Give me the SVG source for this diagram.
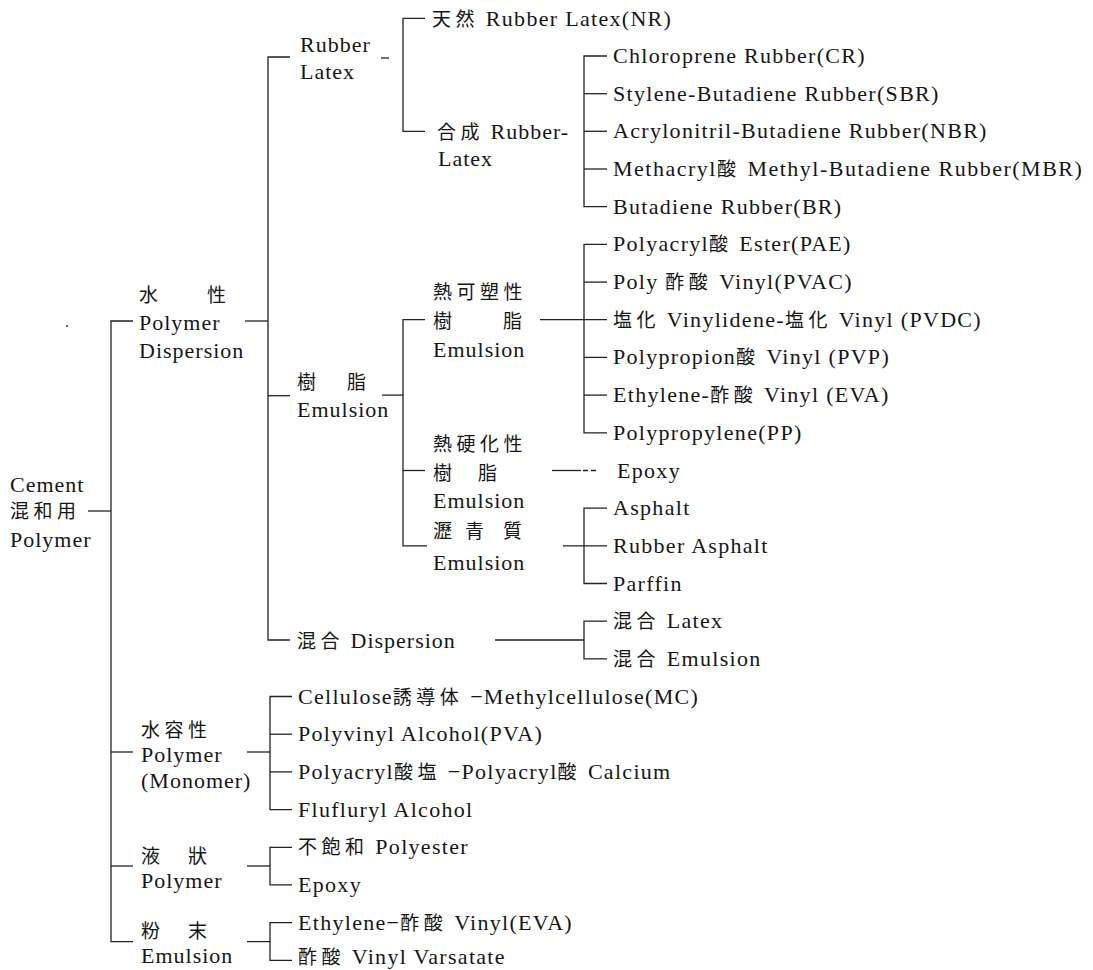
<svg xmlns="http://www.w3.org/2000/svg" width="1093" height="970" viewBox="0 0 1093 970">
<style>
text { font-family: "Liberation Serif", "Noto Sans CJK JP", serif; font-size: 22px; fill: #161616; letter-spacing: 1px; }
text.i { letter-spacing: 1.3px; }
.k { font-family: "Noto Sans CJK JP", "Liberation Serif", sans-serif; font-size: 19px; letter-spacing: 4.5px; }
#connectors line, #connectors polyline { stroke: #222; stroke-width: 1.3; fill: none; }
</style>
<rect width="1093" height="970" fill="#fff"/>
<g id="connectors">
  <line x1="88" y1="511" x2="111" y2="511"/>
  <polyline points="133,321 111,321 111,941.6 133,941.6"/>
  <line x1="111" y1="752" x2="133" y2="752"/>
  <line x1="111" y1="866" x2="133" y2="866"/>
  <line x1="245" y1="321" x2="268" y2="321"/>
  <polyline points="290,57 268,57 268,640 290,640"/>
  <line x1="268" y1="395.7" x2="290" y2="395.7"/>
  <line x1="381" y1="58" x2="389" y2="58"/>
  <polyline points="425,18.3 403,18.3 403,131.3 425,131.3"/>
  <polyline points="607,56 584,56 584,206.7 607,206.7"/>
  <line x1="584" y1="93.7" x2="607" y2="93.7"/>
  <line x1="584" y1="131.3" x2="607" y2="131.3"/>
  <line x1="584" y1="169" x2="607" y2="169"/>
  <line x1="382" y1="395.1" x2="403" y2="395.1"/>
  <polyline points="425,319.7 403,319.7 403,545.8 427,545.8"/>
  <line x1="403" y1="470.5" x2="425" y2="470.5"/>
  <line x1="540" y1="319.7" x2="607" y2="319.7"/>
  <polyline points="607,244.4 584,244.4 584,432.8 607,432.8"/>
  <line x1="584" y1="282.1" x2="607" y2="282.1"/>
  <line x1="584" y1="357.4" x2="607" y2="357.4"/>
  <line x1="584" y1="395.1" x2="607" y2="395.1"/>
  <line x1="552" y1="470.5" x2="581" y2="470.5"/>
  <line x1="583" y1="470.5" x2="597" y2="470.5" stroke-dasharray="5 3"/>
  <line x1="563" y1="545.8" x2="607" y2="545.8"/>
  <polyline points="607,508.1 584,508.1 584,583.5 607,583.5"/>
  <line x1="495" y1="640" x2="584" y2="640"/>
  <polyline points="607,621.2 584,621.2 584,658.9 607,658.9"/>
  <line x1="247" y1="752" x2="270" y2="752"/>
  <polyline points="292,696.5 270,696.5 270,809.6 292,809.6"/>
  <line x1="270" y1="734.2" x2="292" y2="734.2"/>
  <line x1="270" y1="771.9" x2="292" y2="771.9"/>
  <line x1="247" y1="866" x2="270" y2="866"/>
  <polyline points="292,847.3 270,847.3 270,884.9 292,884.9"/>
  <line x1="247" y1="941.6" x2="270" y2="941.6"/>
  <polyline points="292,922.6 270,922.6 270,960.3 292,960.3"/>
</g>
<circle cx="67" cy="326" r="1.1" fill="#444"/>
<g id="root"><text x="10" y="492">Cement</text><text x="10" y="518" class="k">混和用</text><text x="10" y="547">Polymer</text></g>
<g id="n-water-dispersion"><text x="139" y="302" class="k">水</text><text x="207" y="302" class="k">性</text><text x="139" y="330">Polymer</text><text x="139" y="358">Dispersion</text></g>
<g id="n-rubber-latex"><text x="300" y="52">Rubber</text><text x="300" y="79">Latex</text></g>
<g id="n-natural"><text x="432" y="26" class="i"><tspan class="k">天然</tspan> Rubber Latex(NR)</text></g>
<g id="n-synthetic"><text x="437" y="139"><tspan class="k">合成</tspan> Rubber-</text><text x="438" y="166">Latex</text></g>
<g id="n-cr"><text x="613" y="63" class="i">Chloroprene Rubber(CR)</text></g>
<g id="n-sbr"><text x="613" y="100.7" class="i">Stylene-Butadiene Rubber(SBR)</text></g>
<g id="n-nbr"><text x="613" y="138.3" class="i">Acrylonitril-Butadiene Rubber(NBR)</text></g>
<g id="n-mbr"><text x="613" y="176" class="i" style="letter-spacing:1.5px">Methacryl<tspan class="k">酸</tspan> Methyl-Butadiene Rubber(MBR)</text></g>
<g id="n-br"><text x="613" y="213.7" class="i">Butadiene Rubber(BR)</text></g>
<g id="n-resin-emulsion"><text x="297" y="389" class="k">樹</text><text x="347" y="389" class="k">脂</text><text x="297" y="417">Emulsion</text></g>
<g id="n-thermoplastic"><text x="433" y="299" class="k">熱可塑性</text><text x="433" y="328" class="k">樹</text><text x="503" y="328" class="k">脂</text><text x="433" y="357">Emulsion</text></g>
<g id="n-pae"><text x="613" y="251.4" class="i">Polyacryl<tspan class="k">酸</tspan> Ester(PAE)</text></g>
<g id="n-pvac"><text x="613" y="289.1" class="i">Poly <tspan class="k">酢酸</tspan> Vinyl(PVAC)</text></g>
<g id="n-pvdc"><text x="613" y="326.7" class="i"><tspan class="k">塩化</tspan> Vinylidene-<tspan class="k">塩化</tspan> Vinyl (PVDC)</text></g>
<g id="n-pvp"><text x="613" y="364.4" class="i">Polypropion<tspan class="k">酸</tspan> Vinyl (PVP)</text></g>
<g id="n-eva1"><text x="613" y="402.1" class="i">Ethylene-<tspan class="k">酢酸</tspan> Vinyl (EVA)</text></g>
<g id="n-pp"><text x="613" y="439.8" class="i">Polypropylene(PP)</text></g>
<g id="n-thermoset"><text x="433" y="451" class="k">熱硬化性</text><text x="433" y="480" class="k">樹</text><text x="478" y="480" class="k">脂</text><text x="433" y="508">Emulsion</text></g>
<g id="n-epoxy1"><text x="617" y="477.5" class="i">Epoxy</text></g>
<g id="n-asphalt-emulsion"><text x="433" y="538" class="k">瀝</text><text x="465" y="538" class="k">青</text><text x="503" y="538" class="k">質</text><text x="433" y="570">Emulsion</text></g>
<g id="n-asphalt"><text x="613" y="515.1" class="i">Asphalt</text></g>
<g id="n-rubber-asphalt"><text x="613" y="552.8" class="i">Rubber Asphalt</text></g>
<g id="n-parffin"><text x="613" y="590.5" class="i">Parffin</text></g>
<g id="n-mixed-dispersion"><text x="297" y="648"><tspan class="k">混合</tspan> Dispersion</text></g>
<g id="n-mixed-latex"><text x="613" y="628.2" class="i"><tspan class="k">混合</tspan> Latex</text></g>
<g id="n-mixed-emulsion"><text x="613" y="665.9" class="i"><tspan class="k">混合</tspan> Emulsion</text></g>
<g id="n-water-soluble"><text x="141" y="737" class="k">水容性</text><text x="141" y="762">Polymer</text><text x="141" y="788">(Monomer)</text></g>
<g id="n-mc"><text x="298" y="703.5" class="i">Cellulose<tspan class="k">誘導体</tspan> −Methylcellulose(MC)</text></g>
<g id="n-pva"><text x="298" y="741.2" class="i">Polyvinyl Alcohol(PVA)</text></g>
<g id="n-pac"><text x="298" y="778.9" class="i">Polyacryl<tspan class="k">酸塩</tspan> −Polyacryl<tspan class="k">酸</tspan> Calcium</text></g>
<g id="n-ffa"><text x="298" y="816.6" class="i">Flufluryl Alcohol</text></g>
<g id="n-liquid"><text x="141" y="863" class="k">液</text><text x="188" y="863" class="k">狀</text><text x="141" y="888">Polymer</text></g>
<g id="n-upe"><text x="298" y="854.3" class="i"><tspan class="k">不飽和</tspan> Polyester</text></g>
<g id="n-epoxy2"><text x="298" y="891.9" class="i">Epoxy</text></g>
<g id="n-powder"><text x="141" y="938" class="k">粉</text><text x="188" y="938" class="k">末</text><text x="141" y="963">Emulsion</text></g>
<g id="n-eva2"><text x="298" y="929.6" class="i">Ethylene−<tspan class="k">酢酸</tspan> Vinyl(EVA)</text></g>
<g id="n-vv"><text x="298" y="963.5" class="i"><tspan class="k">酢酸</tspan> Vinyl Varsatate</text></g>
</svg>
